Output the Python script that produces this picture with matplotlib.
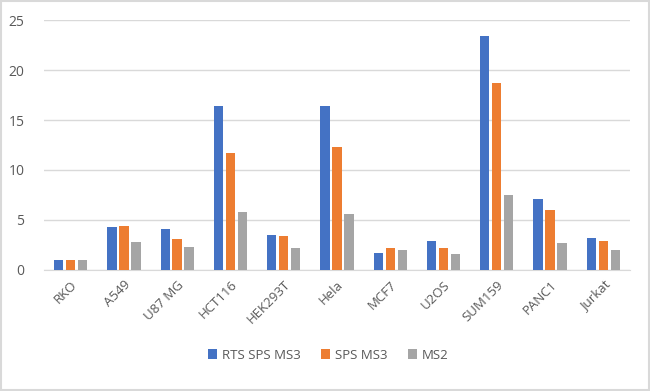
import numpy as np
import matplotlib
matplotlib.use("Agg")
import matplotlib.pyplot as plt
from matplotlib.patches import Rectangle

# cell lines and the three measurement series
cell_lines = ["RKO", "A549", "U87 MG", "HCT116", "HEK293T", "Hela",
              "MCF7", "U2OS", "SUM159", "PANC1", "Jurkat"]
rts_sps_ms3 = [0.95, 4.3, 4.1, 16.4, 3.5, 16.4, 1.7, 2.9, 23.4, 7.1, 3.2]
sps_ms3 = [0.95, 4.4, 3.1, 11.75, 3.35, 12.3, 2.15, 2.15, 18.75, 6.0, 2.9]
ms2 = [0.95, 2.8, 2.3, 5.75, 2.15, 5.6, 1.95, 1.6, 7.5, 2.7, 1.95]

series_names = ["RTS SPS MS3", "SPS MS3", "MS2"]
colors = ["#4472C4", "#ED7D31", "#A5A5A5"]
text_col = "#595959"

plt.rcParams["font.family"] = ["Open Sans", "DejaVu Sans"]

fig = plt.figure(figsize=(6.5, 3.91), dpi=100)
ax = fig.add_axes([0.0677, 0.3095, 0.9013, 0.6393])

x = np.arange(len(cell_lines))
w = 0.175
step = 0.225
for i, (vals, name, c) in enumerate(zip([rts_sps_ms3, sps_ms3, ms2], series_names, colors)):
    ax.bar(x + (i - 1) * step, vals, width=w, color=c, label=name, zorder=3)

ax.set_xlim(-0.5, len(cell_lines) - 0.5)
ax.set_ylim(0, 25)
ax.set_yticks(range(0, 26, 5))
ax.yaxis.grid(True, color="#D9D9D9", linewidth=1, zorder=0)
for s in ["top", "right", "left"]:
    ax.spines[s].set_visible(False)
ax.spines["bottom"].set_color("#D9D9D9")
ax.tick_params(axis="both", length=0, colors=text_col)
ax.tick_params(axis="y", pad=14, labelsize=10)
ax.tick_params(axis="x", pad=6, labelsize=9.5)
ax.set_xticks(x)
ax.set_xticklabels(cell_lines, rotation=45, ha="right", rotation_mode="anchor")

leg = fig.legend(loc="center", bbox_to_anchor=(0.505, 0.092), ncol=3, frameon=False,
                 fontsize=9.5, handlelength=0.7, handleheight=0.7, handletextpad=0.4,
                 columnspacing=1.5)
for t in leg.get_texts():
    t.set_color(text_col)

fig.patches.append(Rectangle((0.001, 0.002), 0.997, 0.995, transform=fig.transFigure,
                             fill=False, edgecolor="#D9D9D9", linewidth=1.5))

fig.savefig("out.png", dpi=100)
